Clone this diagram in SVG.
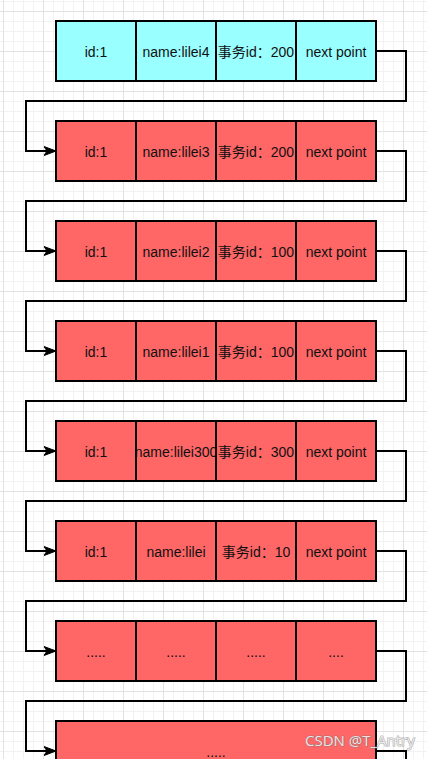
<svg xmlns="http://www.w3.org/2000/svg" width="427" height="759" viewBox="0 0 427 759">
<defs>
<pattern id="minor" width="10" height="10" patternUnits="userSpaceOnUse" x="3" y="1">
<path d="M0 0.5H10M0.5 0V10" fill="none" stroke="#f2f2f2" stroke-width="1"/>
</pattern>
<pattern id="major" width="40" height="40" patternUnits="userSpaceOnUse" x="3" y="11">
<path d="M0 0.5H40M0.5 0V40" fill="none" stroke="#e2e2e2" stroke-width="1"/>
</pattern>
<marker id="arr" markerUnits="userSpaceOnUse" markerWidth="14" markerHeight="12" refX="12" refY="6" orient="auto">
<path d="M0 1.5L12 6L0 10.5L3 6Z" fill="#000" stroke="#000" stroke-width="1"/>
</marker>
</defs>
<style>
.cy{fill:#99ffff;stroke:#000;stroke-width:2}
.rd{fill:#ff6666;stroke:#000;stroke-width:2}
.t{font-family:"Liberation Sans","Noto Sans CJK SC",sans-serif;font-size:14px;fill:#111;text-anchor:middle}
.c{fill:none;stroke:#000;stroke-width:2}
.wm{font-family:"Open Sans","DejaVu Sans",sans-serif;font-size:15px;fill:#f4f4f4;fill-opacity:0.9;stroke:#777;stroke-width:1.2;paint-order:stroke;stroke-opacity:0.6}
</style>
<rect width="427" height="759" fill="#fff"/>
<rect width="427" height="759" fill="url(#minor)"/>
<rect width="427" height="759" fill="url(#major)"/>
<g id="connectors">
<path class="c" d="M377 51H406V101H26V151H56" marker-end="url(#arr)"/>
<path class="c" d="M377 151H406V201H26V251H56" marker-end="url(#arr)"/>
<path class="c" d="M377 251H406V301H26V351H56" marker-end="url(#arr)"/>
<path class="c" d="M377 351H406V401H26V451H56" marker-end="url(#arr)"/>
<path class="c" d="M377 451H406V501H26V551H56" marker-end="url(#arr)"/>
<path class="c" d="M377 551H406V601H26V651H56" marker-end="url(#arr)"/>
<path class="c" d="M377 651H406V701H26V751H56" marker-end="url(#arr)"/>
<path class="c" d="M377 751H406V770"/>
</g>
<g id="node1">
<rect class="cy" x="56" y="21" width="80" height="60"/><rect class="cy" x="136" y="21" width="80" height="60"/><rect class="cy" x="216" y="21" width="80" height="60"/><rect class="cy" x="296" y="21" width="80" height="60"/>
<text class="t" x="96" y="57">id:1</text><text class="t" x="176" y="57">name:lilei4</text><text class="t" x="256" y="57">事务id：200</text><text class="t" x="336" y="57">next point</text>
</g>
<g id="node2">
<rect class="rd" x="56" y="121" width="80" height="60"/><rect class="rd" x="136" y="121" width="80" height="60"/><rect class="rd" x="216" y="121" width="80" height="60"/><rect class="rd" x="296" y="121" width="80" height="60"/>
<text class="t" x="96" y="157">id:1</text><text class="t" x="176" y="157">name:lilei3</text><text class="t" x="256" y="157">事务id：200</text><text class="t" x="336" y="157">next point</text>
</g>
<g id="node3">
<rect class="rd" x="56" y="221" width="80" height="60"/><rect class="rd" x="136" y="221" width="80" height="60"/><rect class="rd" x="216" y="221" width="80" height="60"/><rect class="rd" x="296" y="221" width="80" height="60"/>
<text class="t" x="96" y="257">id:1</text><text class="t" x="176" y="257">name:lilei2</text><text class="t" x="256" y="257">事务id：100</text><text class="t" x="336" y="257">next point</text>
</g>
<g id="node4">
<rect class="rd" x="56" y="321" width="80" height="60"/><rect class="rd" x="136" y="321" width="80" height="60"/><rect class="rd" x="216" y="321" width="80" height="60"/><rect class="rd" x="296" y="321" width="80" height="60"/>
<text class="t" x="96" y="357">id:1</text><text class="t" x="176" y="357">name:lilei1</text><text class="t" x="256" y="357">事务id：100</text><text class="t" x="336" y="357">next point</text>
</g>
<g id="node5">
<rect class="rd" x="56" y="421" width="80" height="60"/><rect class="rd" x="136" y="421" width="80" height="60"/><rect class="rd" x="216" y="421" width="80" height="60"/><rect class="rd" x="296" y="421" width="80" height="60"/>
<text class="t" x="96" y="457">id:1</text><text class="t" x="176" y="457">name:lilei300</text><text class="t" x="256" y="457">事务id：300</text><text class="t" x="336" y="457">next point</text>
</g>
<g id="node6">
<rect class="rd" x="56" y="521" width="80" height="60"/><rect class="rd" x="136" y="521" width="80" height="60"/><rect class="rd" x="216" y="521" width="80" height="60"/><rect class="rd" x="296" y="521" width="80" height="60"/>
<text class="t" x="96" y="557">id:1</text><text class="t" x="176" y="557">name:lilei</text><text class="t" x="256" y="557">事务id：10</text><text class="t" x="336" y="557">next point</text>
</g>
<g id="node7">
<rect class="rd" x="56" y="621" width="80" height="60"/><rect class="rd" x="136" y="621" width="80" height="60"/><rect class="rd" x="216" y="621" width="80" height="60"/><rect class="rd" x="296" y="621" width="80" height="60"/>
<text class="t" x="96" y="657">.....</text><text class="t" x="176" y="657">.....</text><text class="t" x="256" y="657">.....</text><text class="t" x="336" y="657">....</text>
</g>
<g id="node8">
<rect class="rd" x="56" y="721" width="320" height="60"/>
<text class="t" x="216" y="757">.....</text>
</g>
<text class="wm" x="305" y="746">CSDN @T_Antry</text>
</svg>
